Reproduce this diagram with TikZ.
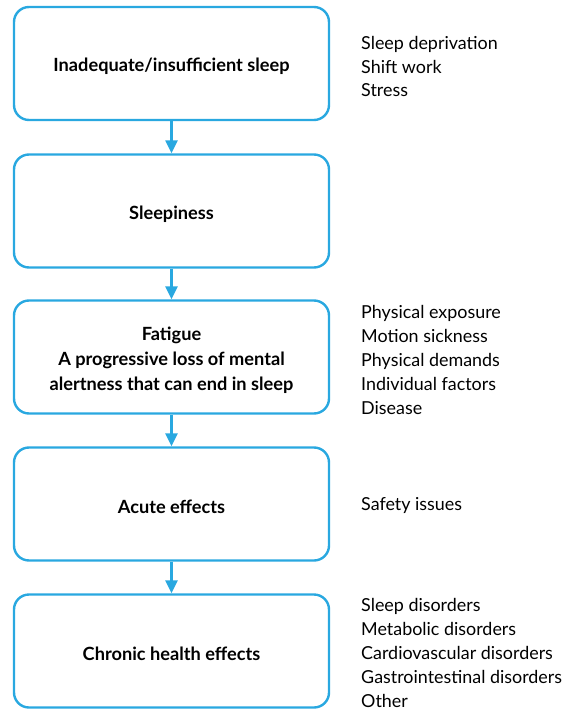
\documentclass[tikz,border=0pt]{standalone}
\usepackage{fontspec}
\setmainfont{Lato}
\usetikzlibrary{arrows.meta}
\definecolor{flowblue}{RGB}{41,168,224}
\tikzset{
  box/.style={draw=flowblue, line width=2.4pt, rounded corners=15pt, minimum width=315pt, minimum height=113pt, inner sep=0pt},
  boxtext/.style={align=center, font=\fontsize{18.2}{25}\selectfont\bfseries, inner sep=0pt, yshift=-3pt},
  side/.style={anchor=west, align=left, font=\fontsize{17.9}{23.8}\selectfont, inner sep=0pt},
  flow/.style={draw=flowblue, line width=2.4pt, -{Triangle[length=13pt,width=12pt]}}
}
\begin{document}
\begin{tikzpicture}[x=1pt,y=1pt]
\useasboundingbox (0,0) rectangle (578,-711);
\node[box] (b1) at (171.5,-63.5) {};
\node[box] (b2) at (171.5,-211) {};
\node[box] (b3) at (171.5,-357) {};
\node[box] (b4) at (171.5,-504) {};
\node[box] (b5) at (171.5,-651) {};
\node[boxtext] (l1) at (b1) {Inadequate/insufficient sleep};
\node[boxtext] (l2) at (b2) {Sleepiness};
\node[boxtext] (l3) at (b3) {Fatigue\\A progressive loss of mental\\alertness that can end in sleep};
\node[boxtext] (l4) at (b4) {Acute effects};
\node[boxtext] (l5) at (b5) {Chronic health effects};
\draw[flow] (b1.south) -- (b2.north);
\draw[flow] (b2.south) -- (b3.north);
\draw[flow] (b3.south) -- (b4.north);
\draw[flow] (b4.south) -- (b5.north);
\node[side] (t1) at (361,-66.5) {Sleep deprivation\\Shift work\\Stress};
\node[side] (t3) at (361,-360) {Physical exposure\\Motion sickness\\Physical demands\\Individual factors\\Disease};
\node[side] (t4) at (361,-506) {Safety issues};
\node[side] (t5) at (361,-653) {Sleep disorders\\Metabolic disorders\\Cardiovascular disorders\\Gastrointestinal disorders\\Other};
\end{tikzpicture}
\end{document}
